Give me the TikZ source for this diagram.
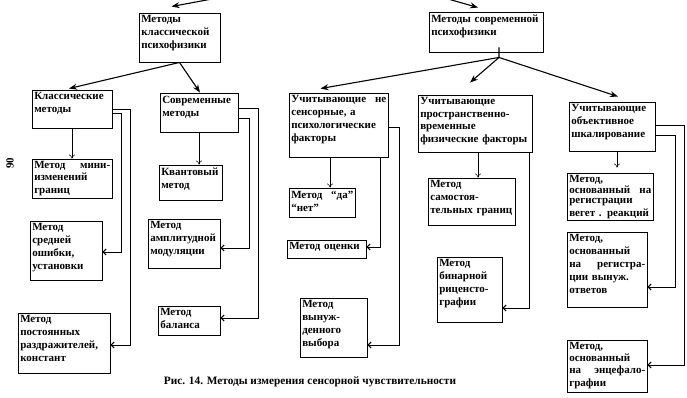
\documentclass[tikz,border=0pt]{standalone}
\usepackage{fontspec}
\setmainfont{Liberation Serif}
\usetikzlibrary{arrows.meta,calc}
\tikzset{
 box/.style={draw, line width=0.9pt, inner sep=0pt},
 txt/.style={inner xsep=2.5pt, inner ysep=3pt, align=left, font=\fontsize{11}{13}\selectfont\bfseries},
 main/.style={line width=1.1pt, -{Stealth[length=8pt,width=6pt]}},
 leaf/.style={line width=0.5pt, -{To[length=4pt,width=6pt]}},
 brk/.style={line width=1pt, -{Straight Barb[length=3pt,width=6pt]}},
}
\newcommand\mybox[6]{%
 \pgfmathsetmacro\mbw{#4-#2}\pgfmathsetmacro\mbh{#5-#3}\pgfmathsetmacro\mbt{#4-#2-4}%
 \node[box, minimum width=\mbw pt, minimum height=\mbh pt] (#1) at ({(#2+#4)/2},{(#3+#5)/2}) {};
 \node[txt, text width=\mbt pt, anchor=north west] (#1t) at (#1.north west) {#6};}
\begin{document}
\begin{tikzpicture}[x=1pt,y=-1pt]
\useasboundingbox (0,0) rectangle (687,398);
\mybox{cp}{139}{13}{220}{62}{Методы\\классической\\психофизики}
\mybox{mp}{429}{12}{543}{52}{Методы современной\\психофизики}
\mybox{cl}{32}{90}{112}{128}{Классические\\методы}
\mybox{sm}{160}{93}{238}{132}{Современные\\методы}
\mybox{ps}{289}{93}{388}{157}{Учитывающие\hfill не\\сенсорные, а\\психологические\\факторы}
\mybox{pt}{418}{95}{532}{152}{\fontsize{11}{12.5}\selectfont Учитывающие\\пространственно-\\временные\\физические факторы}
\mybox{ob}{569}{102}{655}{151}{Учитывающие\\объективное\\шкалирование}
\mybox{mini}{32}{159}{112}{198}{\fontsize{11}{11.5}\selectfont Метод\hfill мини-\\изменений\\границ}
\mybox{sred}{30}{221}{102}{280}{Метод\\средней\\ошибки,\\установки}
\mybox{const}{18}{313}{110}{373}{Метод\\постоянных\\раздражителей,\\констант}
\mybox{kv}{159}{165}{222}{200}{Квантовый\\метод}
\mybox{ampl}{148}{219}{220}{268}{Метод\\амплитудной\\модуляции}
\mybox{bal}{158}{306}{220}{335}{Метод\\баланса}
\mybox{da}{289}{188}{355}{217}{Метод\hfill “да”\\“нет”}
\mybox{oc}{287}{240}{366}{258}{Метод оценки}
\mybox{vyb}{300}{298}{367}{357}{Метод\\вынуж-\\денного\\выбора}
\mybox{sam}{428}{178}{515}{225}{Метод\\самостоя-\\тельных границ}
\mybox{bin}{437}{257}{502}{322}{Метод\\бинарной\\риценсто-\\графии}
\mybox{veg}{567}{173}{653}{220}{\fontsize{11}{10.5}\selectfont Метод,\\основанный\hfill на\\регистрации\\вегет . реакций}
\mybox{otv}{567}{232}{647}{307}{Метод,\\основанный\\на\hfill регистра-\\ции вынуж.\\ответов}
\mybox{enc}{567}{340}{647}{392}{\fontsize{11}{12}\selectfont Метод,\\основанный\\на\hfill энцефало-\\графии}
% top incoming arrows
\coordinate (inA) at (212,-1);
\coordinate (inB) at (448,-1);
\draw[main] (inA) -- ($(cp.north)+(-8,-6)$);
\draw[main] (inB) -- ($(mp.north)+(-8,-4)$);
% classic
\draw[main] (cp.south) -- ($(cl.north)+(-3,-1)$);
\draw[main] (cp.south) -- ($(sm.north)+(1,0)$);
% modern
\coordinate (mpo) at ($(mp.south)+(13,5)$);
\draw[main, shorten <=-5pt] (mp.south -| mpo) -- (mpo) -- ($(ps.north)+(-18,-4)$);
\draw[main] (mpo) -- ($(pt.north)+(-5,-12)$);
\draw[main] (mpo) -- ($(ob.north)+(6,-5)$);
% leaf arrows
\draw[leaf] (cl.south -| 72,0) -- (mini.north -| 72,0);
\draw[leaf] (sm.south -| 199,0) -- (kv.north -| 199,0);
\draw[leaf] (ps.south -| 330,0) -- (da.north -| 330,0);
\draw[leaf] (pt.south -| 478,0) -- (sam.north -| 478,0);
\draw[leaf] (ob.south -| 617,0) -- ($(veg.north -| 617,0)+(0,-5)$);
% brackets
\draw[brk] (cl.east |- 0,110) -- (130,110) |- (const.east |- 0,345);
\draw[brk] (cl.east |- 0,114) -- (121,114) |- (sred.east |- 0,252);
\draw[brk] (sm.east |- 0,109) -- (258,109) |- (bal.east |- 0,318);
\draw[brk] (sm.east |- 0,119) -- (249,119) |- (ampl.east |- 0,248);
\draw[brk] (ps.south -| 380,0) |- (oc.east |- 0,247);
\draw[brk] (ps.east |- 0,128) -- (399,128) |- (vyb.east |- 0,345);
\draw[brk] (pt.south -| 529,0) |- (bin.east |- 0,308);
\draw[brk] (ob.east |- 0,126) -- (684,126) |- (enc.east |- 0,365);
\draw[brk] (ob.east |- 0,136) -- (675,136) |- (otv.east |- 0,287);
% caption and page number
\node[font=\fontsize{11.3}{13}\selectfont\bfseries] (cap) at (310,382) {Рис. 14. Методы измерения сенсорной чувствительности};
\node[font=\fontsize{11}{13}\selectfont\bfseries, rotate=90] (pg) at (10,163) {90};
\end{tikzpicture}
\end{document}
